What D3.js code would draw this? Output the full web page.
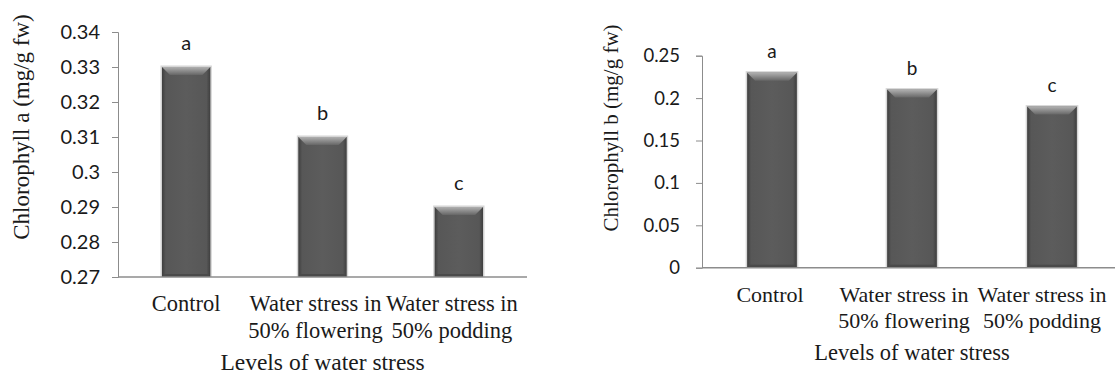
<!doctype html>
<html lang="en">
<head>
  <meta charset="utf-8">
  <title>Chlorophyll under water stress</title>
  <script src="https://d3js.org/d3.v7.min.js"></script>
  <style>
    body { margin: 0; background: #fff; }
    svg text { fill: #1a1a1a; }
    .serif { font-family: "Liberation Serif", "DejaVu Serif", serif; }
    .sans { font-family: Lato, "Open Sans", sans-serif; }
  </style>
</head>
<body>
<svg id="chart" width="1115" height="376"></svg>
<script>
// categories shared by both panels
const categories = ["Control", "Water stress in 50% flowering", "Water stress in 50% podding"];
const catLines = [["Control"], ["Water stress in", "50% flowering"], ["Water stress in", "50% podding"]];

// panel A: chlorophyll a
const chlA = [0.33, 0.31, 0.29];
const lettersA = ["a", "b", "c"];
const ticksA = [0.27, 0.28, 0.29, 0.3, 0.31, 0.32, 0.33, 0.34];

// panel B: chlorophyll b
const chlB = [0.23, 0.21, 0.19];
const lettersB = ["a", "b", "c"];
const ticksB = [0, 0.05, 0.1, 0.15, 0.2, 0.25];

const svg = d3.select("#chart");

// gradients for the bevelled bars
const defs = svg.append("defs");
const bodyGrad = defs.append("linearGradient").attr("id", "barBody").attr("x1", 0).attr("x2", 1).attr("y1", 0).attr("y2", 0);
bodyGrad.append("stop").attr("offset", "0").attr("stop-color", "#3e3e3e");
bodyGrad.append("stop").attr("offset", "0.08").attr("stop-color", "#575757");
bodyGrad.append("stop").attr("offset", "0.5").attr("stop-color", "#5c5c5c");
bodyGrad.append("stop").attr("offset", "0.92").attr("stop-color", "#575757");
bodyGrad.append("stop").attr("offset", "1").attr("stop-color", "#3e3e3e");
const topGrad = defs.append("linearGradient").attr("id", "barTop").attr("x1", 0).attr("x2", 0).attr("y1", 0).attr("y2", 1);
topGrad.append("stop").attr("offset", "0").attr("stop-color", "#b0b0b0");
topGrad.append("stop").attr("offset", "1").attr("stop-color", "#666666");

function panel(opts) {
  const g = svg.append("g");
  const x = d3.scaleBand().domain(categories).range([opts.x0, opts.x1]);
  const y = d3.scaleLinear().domain(opts.domain).range([opts.yBottom, opts.yTop]);
  const barW = x.bandwidth() * 0.355;

  // y axis
  const yAxis = d3.axisLeft(y).tickValues(opts.ticks).tickSize(6).tickPadding(opts.tickPad)
    .tickFormat(d => d3.format("~g")(+d.toFixed(2)));
  const ya = g.append("g").attr("transform", `translate(${opts.x0},0)`).call(yAxis);
  ya.select(".domain").attr("stroke", "#8c8c8c");
  ya.selectAll(".tick line").attr("stroke", "#8c8c8c");
  ya.selectAll(".tick text").attr("class", "sans").style("font-size", opts.tickSize + "px").attr("fill", "#1a1a1a");

  // bars
  const bars = g.selectAll("g.bar").data(opts.values).enter().append("g").attr("class", "bar");
  bars.each(function (v, i) {
    const b = d3.select(this);
    const cx = x(categories[i]) + x.bandwidth() / 2;
    const xl = cx - barW / 2, xr = cx + barW / 2;
    const yt = y(v), yb = y(opts.domain[0]);
    const bev = 8;
    b.append("rect").attr("x", xl - 1.5).attr("y", yt - 1.5).attr("width", barW + 3).attr("height", yb - yt + 1.5)
      .attr("fill", "#d6d6d6");
    b.append("rect").attr("x", xl).attr("y", yt).attr("width", barW).attr("height", yb - yt)
      .attr("fill", "url(#barBody)");
    b.append("path")
      .attr("d", `M${xl},${yt}L${xr},${yt}L${xr - bev},${yt + bev}L${xl + bev},${yt + bev}Z`)
      .attr("fill", "url(#barTop)");
    b.append("rect").attr("x", xl + 2).attr("y", yb - 3).attr("width", barW - 4).attr("height", 3)
      .attr("fill", "#4a4a4a");
    b.append("text").attr("class", "sans").attr("x", cx).attr("y", yt - opts.letterGap)
      .attr("text-anchor", "middle").style("font-size", opts.letterSize + "px")
      .text(opts.letters[i]);
  });

  // x axis baseline
  g.append("line").attr("x1", opts.x0).attr("x2", opts.x1)
    .attr("y1", y(opts.domain[0])).attr("y2", y(opts.domain[0]))
    .attr("stroke", "#8c8c8c").attr("stroke-width", 1.5);

  // category labels
  catLines.forEach((lines, i) => {
    const cx = x(categories[i]) + x.bandwidth() / 2 + opts.labelShift[i];
    lines.forEach((t, k) => {
      g.append("text").attr("class", "serif").attr("x", cx).attr("y", opts.catY + k * opts.catLH)
        .attr("text-anchor", "middle").style("font-size", opts.catSize + "px").text(t);
    });
  });

  // axis titles
  g.append("text").attr("class", "serif").attr("x", (opts.x0 + opts.x1) / 2).attr("y", opts.xTitleY)
    .attr("text-anchor", "middle").style("font-size", opts.xTitleSize + "px").text("Levels of water stress");
  g.append("text").attr("class", "serif")
    .attr("transform", `translate(${opts.yTitleX},${opts.yTitleY}) rotate(-90)`)
    .attr("text-anchor", "middle").style("font-size", opts.yTitleSize + "px").text(opts.yTitle);
}

panel({
  x0: 118, x1: 527, yTop: 32, yBottom: 277, domain: [0.27, 0.34], ticks: ticksA, tickPad: 12,
  values: chlA, letters: lettersA, letterGap: 17, letterSize: 20, tickSize: 20,
  catY: 311, catLH: 27, catSize: 22.5, labelShift: [0, -7, -7], xTitleY: 370, xTitleSize: 23.5,
  yTitle: "Chlorophyll a (mg/g fw)", yTitleX: 29, yTitleY: 127, yTitleSize: 23
});

panel({
  x0: 702, x1: 1122, yTop: 55.7, yBottom: 267.7, domain: [0, 0.25], ticks: ticksB, tickPad: 16,
  values: chlB, letters: lettersB, letterGap: 15, letterSize: 19, tickSize: 18.5,
  catY: 302, catLH: 26, catSize: 22, labelShift: [-2, -8, -10], xTitleY: 360, xTitleSize: 22.5,
  yTitle: "Chlorophyll b (mg/g fw)", yTitleX: 618, yTitleY: 128, yTitleSize: 21
});
</script>
</body>
</html>
